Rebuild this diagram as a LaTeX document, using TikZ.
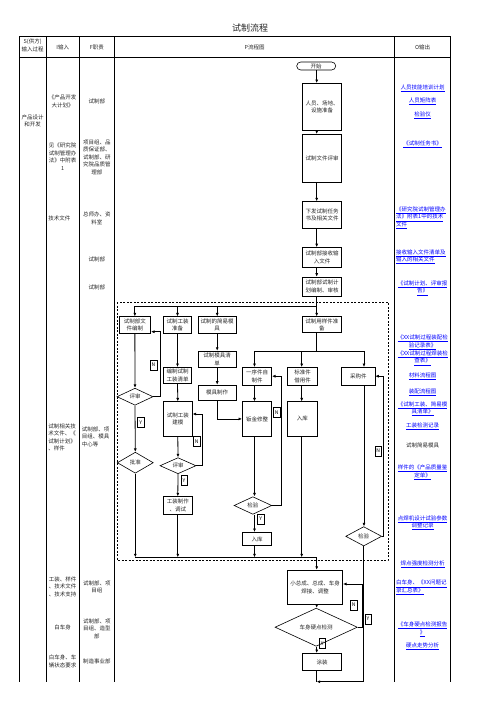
\documentclass[tikz,border=0pt]{standalone}
\usepackage{fontspec}
\setmainfont{Noto Sans CJK SC}
\usetikzlibrary{shapes.geometric,arrows.meta}
\definecolor{linkblue}{RGB}{0,0,255}
\newcommand{\flowfont}{\fontsize{5.5}{7.5}\selectfont}
\newcommand{\outlink}[1]{\textcolor{linkblue}{\underline{#1}}}
\tikzset{
	box/.style={draw,line width=0.6pt,inner sep=0.5pt,align=center,font=\flowfont,text=black!85},
	dec/.style={draw,diamond,line width=0.6pt,inner sep=0pt,font=\flowfont,text=black!85},
	yn/.style={draw,line width=0.5pt,inner sep=0pt,minimum width=6.5pt,minimum height=10pt,font=\fontsize{5}{5}\selectfont},
	arr/.style={line width=0.8pt,-{Latex[length=3.5pt,width=3pt]}},
	ln/.style={line width=0.8pt},
	cell/.style={font=\flowfont,align=center,inner sep=0.5pt,text=black!85},
	outp/.style={font=\flowfont,align=center,inner sep=0.5pt}
}

\begin{document}
\begin{tikzpicture}[x=1pt,y=1pt]
	\useasboundingbox (0,0) rectangle (496,-702);
	\draw[ln] (19,-36.7)--(450.7,-36.7);
	\draw[ln] (19,-57.7)--(450.7,-57.7);
	\draw[ln] (19,-36.7)--(19,-681.7);
	\draw[ln] (46.3,-36.7)--(46.3,-681.7);
	\draw[ln] (79,-36.7)--(79,-681.7);
	\draw[ln] (114.7,-36.7)--(114.7,-681.7);
	\draw[ln] (394.7,-36.7)--(394.7,-681.7);
	\draw[ln] (450.7,-36.7)--(450.7,-681.7);
	\draw[line width=0.6pt,dash pattern=on 2pt off 1.5pt] (117,-302) rectangle (388,-560);

	\node[font=\fontsize{9}{9}\selectfont,text=black!85] (title) at (250,-28.3) {试制流程};
	\node[cell] (hs) at (32.7,-45.5) {S(供方)\\输入过程};
	\node[cell] (hi) at (62.7,-47.2) {I输入};
	\node[cell] (hf) at (96.85,-47.2) {F职责};
	\node[cell] (hp) at (254.7,-47.2) {P流程图};
	\node[cell] (ho) at (422.7,-47.2) {O输出};

	\node[cell] (s1) at (32.7,-121) {产品设计\\和开发};

	\node[cell] (i1) at (62.7,-101.2) {《产品开发\\大计划》};
	\node[cell] (i2) at (62.7,-156.7) {见《研究院\\试制管理办\\法》中附表\\1};
	\node[cell,anchor=west] (i3) at (47.7,-218.3) {技术文件};
	\node[cell,align=left,anchor=west] (i4) at (47.7,-437.5) {试制相关技\\术文件、《\\试制计划》\\、样件};
	\node[cell] (i5) at (62.7,-586.7) {工装、样件\\、技术文件\\、技术支持};
	\node[cell] (i6) at (62.7,-627.7) {白车身};
	\node[cell] (i7) at (62.7,-661.2) {白车身、车\\辆状态要求};

	\node[cell] (f1) at (96.85,-101.7) {试制部};
	\node[cell] (f2) at (96.85,-157.2) {项目组、品\\质保证部、\\试制部、研\\究院品质管\\理部};
	\node[cell] (f3) at (96.85,-218.2) {总师办、资\\料室};
	\node[cell] (f4) at (96.85,-259) {试制部};
	\node[cell] (f5) at (96.85,-287.3) {试制部};
	\node[cell,align=left,anchor=west] (f6) at (81.2,-436.6) {试制部、项\\目组、模具\\中心等};
	\node[cell] (f7) at (96.85,-587) {试制部、项\\目组};
	\node[cell] (f8) at (96.85,-628.5) {试制部、项\\目组、造型\\部};
	\node[cell] (f9) at (96.85,-661.7) {制造事业部};

	\node[outp] (o1) at (422.7,-88.3) {\outlink{人员技能培训计划}};
	\node[outp] (o2) at (422.7,-101.7) {\outlink{人员矩阵表}};
	\node[outp] (o3) at (422.7,-115) {\outlink{检验仪}};
	\node[outp] (o4) at (422.7,-144.3) {\outlink{《试制任务书》}};
	\node[outp,align=left,anchor=west] (o5) at (395.5,-217.8) {\outlink{《研究院试制管理办}\\\outlink{法》附表1中的技术}\\\outlink{文件}};
	\node[outp,align=left,anchor=west] (o6) at (395.5,-256.7) {\outlink{接收输入文件清单及}\\\outlink{输入的相关文件}};
	\node[outp] (o7) at (422.7,-288) {\outlink{《试制计划、评审报}\\\outlink{告》}};
	\node[outp] (o8) at (422.7,-342.3) {\outlink{《XX试制过程装配检}\\\outlink{验记录表》}};
	\node[outp] (o9) at (422.7,-358) {\outlink{《XX试制过程焊装检}\\\outlink{查表》}};
	\node[outp] (o10) at (422.7,-376) {\outlink{材料流程图}};
	\node[outp] (o11) at (422.7,-392.3) {\outlink{装配流程图}};
	\node[outp] (o12) at (422.7,-408.8) {\outlink{《试制工装、简易模}\\\outlink{具清单》}};
	\node[outp] (o13) at (422.7,-426.7) {\outlink{工装检测记录}};
	\node[outp,text=black!85] (o14) at (422.7,-445) {试制简易模具};
	\node[outp] (o15) at (422.7,-472.2) {\outlink{样件的《产品质量鉴}\\\outlink{定单》}};
	\node[outp] (o16) at (422.7,-522.8) {\outlink{点焊机设计试验参数}\\\outlink{调整记录}};
	\node[outp] (o17) at (422.7,-564) {\outlink{焊点强度检测分析}};
	\node[outp,align=left,anchor=west] (o18) at (395.5,-587.5) {\outlink{白车身、《XX问题记}\\\outlink{录汇总表》}};
	\node[outp] (o19) at (422.7,-629.2) {\outlink{《车身硬点检测报告}\\\outlink{》}};
	\node[outp] (o20) at (422.7,-646.7) {\outlink{硬点走势分析}};

	\coordinate (cD) at (254.5,0);
	\coordinate (cE) at (301.7,0);
	\coordinate (cF) at (364,0);
	\coordinate (cM) at (316.7,0);
	\coordinate (sp1) at (316.7,-306);
	\coordinate (sp2) at (316.7,-351);
	\coordinate (jn) at (316.7,-557.3);
	\coordinate (fin) at (316.7,-681.7);

	\node[box,rounded corners=4pt,minimum width=39,minimum height=8,inner sep=0pt] (start) at (316.2,-66) {开始};
	\node[box,minimum width=39.4,minimum height=46.7] (prep) at (322,-106.7) {人员、场地、\\设施准备};
	\node[box,minimum width=39.4,minimum height=48.4] (review) at (322,-158.5) {试制文件评审};
	\node[box,minimum width=39.4,minimum height=26.3] (issue) at (322,-214.8) {下发试制任务\\书及相关文件};
	\node[box,minimum width=39.4,minimum height=20] (recv) at (322,-257.5) {试制部接收输\\入文件};
	\node[box,minimum width=39.4,minimum height=19] (plan) at (322,-286.5) {试制部试制计\\划编制、审核};

	\node[box,minimum width=31.7,minimum height=16.6] (doc) at (134.85,-325) {试制部文\\件编制};
	\node[box,minimum width=28.4,minimum height=16.6] (tool) at (177.5,-325) {试制工装\\准备};
	\node[box,minimum width=37.7,minimum height=16.6] (mould) at (217.2,-325) {试制的简易模\\具};
	\node[box,minimum width=38.3,minimum height=16] (sample) at (321.9,-324.7) {试制用样件准\\备};
	\node[dec,minimum width=36,minimum height=17] (rev1) at (135,-396.7) {评审};
	\node[dec,minimum width=36,minimum height=21] (appr) at (135.3,-462.7) {批准};
	\node[box,minimum width=28.4,minimum height=16] (tlist) at (177.5,-375.3) {编制试制\\工装清单};
	\node[box,minimum width=29,minimum height=34.3] (tmodel) at (177.8,-418.9) {试制工装\\建模};
	\node[dec,minimum width=36,minimum height=14.4] (rev2) at (178,-465.7) {评审};
	\node[box,minimum width=29,minimum height=17.3] (tmake) at (177.8,-505.3) {工装制作\\、调试};
	\node[box,minimum width=37.7,minimum height=16.3] (mlist) at (217.2,-359.2) {试制模具清\\单};
	\node[box,minimum width=37.7,minimum height=15] (mmake) at (217.2,-392.5) {模具制作};
	\node[box,minimum width=29,minimum height=17.7] (part) at (257.2,-376.2) {一序件自\\制件};
	\node[box,minimum width=29.6,minimum height=17.7] (std) at (302.5,-376.2) {标准件\\借用件};
	\node[box,minimum width=33.3,minimum height=17.7] (buy) at (358.3,-376.2) {采购件};
	\node[box,minimum width=29.4,minimum height=34.3] (sheet) at (257,-418.9) {钣金修整};
	\node[box,minimum width=30,minimum height=34.3] (store2) at (302.3,-418.9) {入库};
	\node[dec,minimum width=37.7,minimum height=17.6] (insp1) at (252.9,-505.5) {检验};
	\node[box,minimum width=29.4,minimum height=13.4] (store1) at (257,-539) {入库};
	\node[dec,minimum width=36,minimum height=19.3] (insp2) at (363.7,-536.3) {检验};
	\node[box,minimum width=55.4,minimum height=34.3] (weld) at (315,-587.2) {小总成、总成、车身\\焊接、调整};
	\node[dec,minimum width=82.3,minimum height=17.7] (hard) at (316.2,-627.2) {车身硬点检测};
	\node[box,minimum width=39.4,minimum height=17.4] (paint) at (322,-662) {涂装};

	\node[yn] (n1) at (153.5,-365) {N};
	\node[yn] (y1) at (140.7,-422.7) {Y};
	\node[yn] (n2) at (196.7,-441.7) {N};
	\node[yn] (y2) at (184,-480.7) {Y};
	\node[yn] (n3) at (276.7,-412.3) {N};
	\node[yn] (y3) at (260.7,-519) {Y};
	\node[yn] (n4) at (378.3,-451) {N};
	\node[yn] (y4) at (368,-619) {Y};
	\node[yn] (n5) at (353.7,-605) {N};
	\node[yn] (y5) at (322.3,-643.3) {Y};

	\draw[arr] (start.south -| cM)--(prep.north -| cM);
	\draw[arr] (prep.south -| cM)--(review.north -| cM);
	\draw[arr] (review.south -| cM)--(issue.north -| cM);
	\draw[arr] (issue.south -| cM)--(recv.north -| cM);
	\draw[arr] (recv.south -| cM)--(plan.north -| cM);
	\draw[arr] (plan.south -| cM)--(sample.north -| cM);
	\draw[arr] (sp1) -| (doc.north);
	\draw[arr] (sp1) -| (tool.north);
	\draw[arr] (sp1) -| (mould.north);

	\draw[arr] (doc.south)--(rev1.north);
	\draw[arr] (rev1.south)--(appr.north);
	\draw[arr] (rev1.east)--++(6.6,0) |- ([yshift=-6.7]doc.east);
	\draw[arr] (tool.south)--(tlist.north);
	\draw[arr] (tlist.south)--(tmodel.north);
	\draw[arr] (tmodel.south)--(rev2.north);
	\draw[arr] (rev2.east)--++(6.3,0) |- ([yshift=4.9]tmodel.east);
	\draw[arr] (rev2.south)--(tmake.north);
	\draw[arr] (mould.south)--(mlist.north);
	\draw[arr] (mlist.south)--(mmake.north);
	\draw[arr] (mmake.south) |- (sheet.west);

	\draw[ln] (sample.south -| cM)--(sp2);
	\draw[arr] (sp2) -| (part.north -| cD);
	\draw[arr] (sp2) -| (std.north -| cE);
	\draw[arr] (sp2) -| (buy.north -| cF);
	\draw[arr] (part.south -| cD)--(sheet.north -| cD);
	\draw[arr] (sheet.south -| cD)--(insp1.north -| cD);
	\draw[arr] (insp1.east)--++(9.3,0) |- (part.east);
	\draw[arr] (insp1.south -| cD)--(store1.north -| cD);
	\draw[arr] (std.south -| cE)--(store2.north -| cE);
	\draw[arr] (buy.south -| cF)--(insp2.north -| cF);
	\draw[arr] (insp2.east)--++(1.6,0) |- (buy.east);

	\draw[ln] (appr.south |- jn)--(jn);
	\draw[arr] (appr.south)--(appr.south |- jn);
	\draw[arr] (tmake.south)--(tmake.south |- jn);
	\draw[arr] (store1.south -| cD)--(cD |- jn);
	\draw[arr] (store2.south -| cE)--(cE |- jn);
	\draw[arr] (jn)--(weld.north -| cM);
	\draw[arr] (weld.south -| cM)--(hard.north -| cM);
	\draw[arr] (hard.east)--++(4.4,0) |- ([yshift=3.2]weld.east);
	\draw[arr] (hard.south -| cM)--(paint.north -| cM);
	\draw[ln] (paint.south -| cM)--(fin);
	\draw[arr] (insp2.south) |- (fin);
\end{tikzpicture}
\end{document}
